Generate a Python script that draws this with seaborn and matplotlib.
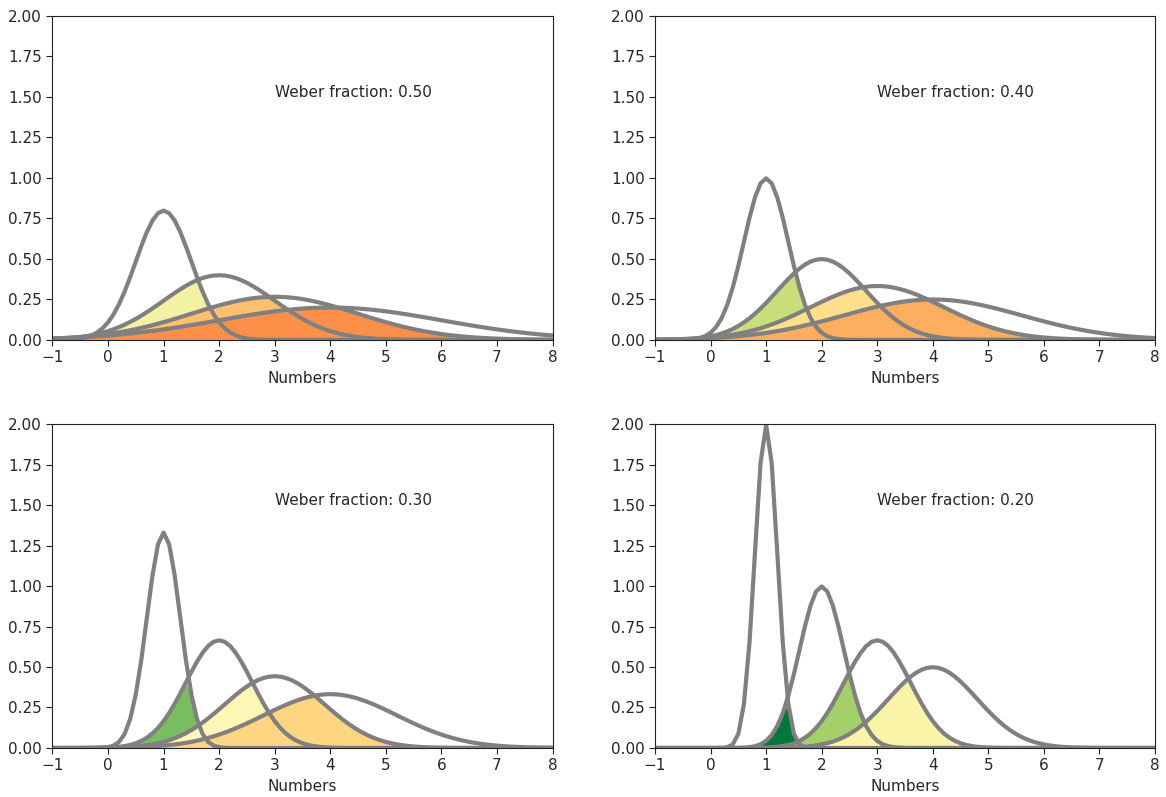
import numpy as np
import pandas as pd
import matplotlib
matplotlib.use("Agg")
import matplotlib.pyplot as plt
import seaborn as sns

# Weber fractions per panel (top-left, top-right, bottom-left, bottom-right)
weber_fractions = [0.50, 0.40, 0.30, 0.20]
# numerosities represented by each gaussian
numbers = [1, 2, 3, 4]
# overlap fill colours for pairs (1,2), (2,3), (3,4) in each panel
fill_colors = [
    ["#f3f1a3", "#fdc06f", "#fd9048"],
    ["#c9e07a", "#fee08b", "#fdae5e"],
    ["#78be61", "#fff7b6", "#fed681"],
    ["#00783a", "#a4d06a", "#faf4a8"],
]

x_grid = np.linspace(-1, 8, 91)

sns.set_style("ticks")

fig, axes = plt.subplots(2, 2, figsize=(11.66, 7.97), dpi=100)
fig.subplots_adjust(left=0.045, right=0.9906, top=0.980, bottom=0.0615,
                    wspace=0.205, hspace=0.26)

for ax, w, colors in zip(axes.flat, weber_fractions, fill_colors):
    # scalar variability: sd grows with the number
    curves = {}
    for n in numbers:
        sd = w * n
        curves[n] = np.exp(-0.5 * ((x_grid - n) / sd) ** 2) / (sd * np.sqrt(2 * np.pi))

    # shade the overlap between neighbouring numbers
    for (a, b), c in zip(zip(numbers[:-1], numbers[1:]), colors):
        ax.fill_between(x_grid, 0, np.minimum(curves[a], curves[b]),
                        color=c, lw=0, zorder=1)

    df = pd.DataFrame({"x": np.tile(x_grid, len(numbers)),
                       "y": np.concatenate([curves[n] for n in numbers]),
                       "n": np.repeat(numbers, len(x_grid))})
    sns.lineplot(data=df, x="x", y="y", units="n", estimator=None,
                 color="gray", lw=3, ax=ax, zorder=2)

    ax.text(3, 1.5, f"Weber fraction: {w:.2f}", fontsize=11)
    ax.set_xlim(-1, 8)
    ax.set_ylim(0, 2)
    ax.set_xticks(range(-1, 9))
    ax.set_yticks(np.arange(0, 2.01, 0.25))
    ax.set_yticklabels([f"{v:.2f}" for v in np.arange(0, 2.01, 0.25)])
    ax.set_xlabel("Numbers", fontsize=11, labelpad=4)
    ax.set_ylabel("")
    ax.tick_params(labelsize=11, length=4, color="#222222")
    for s in ax.spines.values():
        s.set_color("#222222")

fig.savefig("out.png", dpi=100)
